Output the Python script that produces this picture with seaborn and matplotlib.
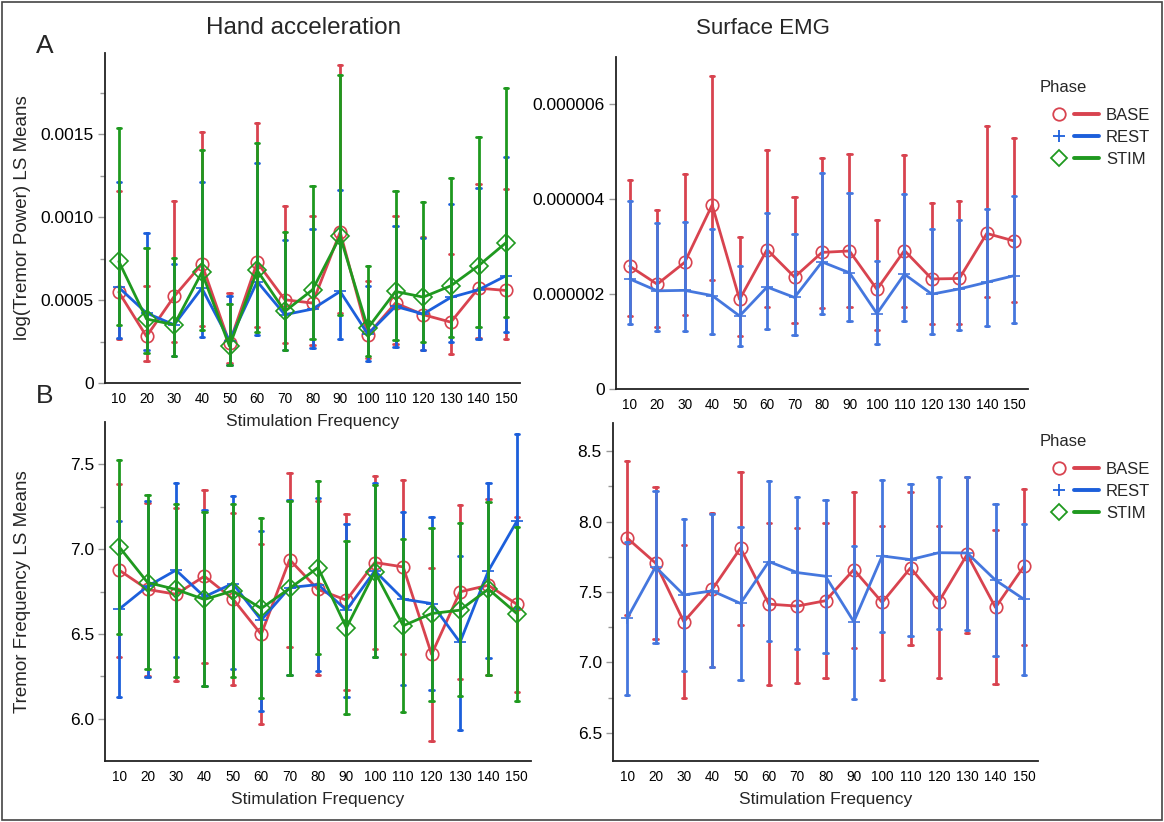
import numpy as np
import pandas as pd
import matplotlib
matplotlib.use("Agg")
import matplotlib.pyplot as plt
import seaborn as sns
from matplotlib.lines import Line2D
from matplotlib.legend_handler import HandlerTuple
from matplotlib.patches import Rectangle
from matplotlib.ticker import FixedLocator

# ---------------- data ----------------
freqs = [10, 20, 30, 40, 50, 60, 70, 80, 90, 100, 110, 120, 130, 140, 150]
freq_labels = [str(f) for f in freqs]
phases = ["BASE", "REST", "STIM"]

# Panel A left: log(Tremor Power) LS Means, hand acceleration
acc_pow_base_mean = [0.000548, 0.000281, 0.000522, 0.000717, 0.000240, 0.000727, 0.000502, 0.000482,
                     0.000910, 0.000291, 0.000482, 0.000412, 0.000367, 0.000572, 0.000558]
acc_pow_base_lo = [0.000265, 0.000135, 0.000247, 0.000341, 0.000120, 0.000337, 0.000241, 0.000231,
                   0.000422, 0.000150, 0.000237, 0.000200, 0.000177, 0.000270, 0.000265]
acc_pow_base_hi = [0.001160, 0.000582, 0.001100, 0.001514, 0.000542, 0.001570, 0.001070, 0.001010,
                   0.001920, 0.000614, 0.001008, 0.000880, 0.000777, 0.001200, 0.001170]
acc_pow_rest_mean = [0.000576, 0.000422, 0.000351, 0.000572, 0.000255, 0.000612, 0.000412, 0.000446,
                     0.000552, 0.000295, 0.000462, 0.000416, 0.000516, 0.000562, 0.000647]
acc_pow_rest_lo = [0.000270, 0.000200, 0.000165, 0.000277, 0.000110, 0.000287, 0.000197, 0.000210,
                   0.000265, 0.000135, 0.000220, 0.000197, 0.000245, 0.000267, 0.000307]
acc_pow_rest_hi = [0.001210, 0.000904, 0.000720, 0.001210, 0.000522, 0.001325, 0.000860, 0.000928,
                   0.001165, 0.000586, 0.000944, 0.000873, 0.001080, 0.001175, 0.001365]
acc_pow_stim_mean = [0.000733, 0.000386, 0.000351, 0.000667, 0.000222, 0.000679, 0.000432, 0.000562,
                     0.000884, 0.000331, 0.000552, 0.000518, 0.000586, 0.000707, 0.000847]
acc_pow_stim_lo = [0.000347, 0.000180, 0.000165, 0.000317, 0.000110, 0.000307, 0.000200, 0.000265,
                   0.000412, 0.000160, 0.000260, 0.000250, 0.000280, 0.000337, 0.000400]
acc_pow_stim_hi = [0.001540, 0.000813, 0.000753, 0.001406, 0.000476, 0.001450, 0.000908, 0.001190,
                   0.001855, 0.000707, 0.001160, 0.001090, 0.001237, 0.001486, 0.001780]

# Panel A right: surface EMG power
emg_pow_base_mean = [2.59e-6, 2.21e-6, 2.67e-6, 3.88e-6, 1.89e-6, 2.94e-6, 2.36e-6, 2.88e-6,
                     2.91e-6, 2.10e-6, 2.92e-6, 2.32e-6, 2.33e-6, 3.28e-6, 3.12e-6]
emg_pow_base_lo = [1.53e-6, 1.31e-6, 1.57e-6, 2.29e-6, 1.12e-6, 1.72e-6, 1.40e-6, 1.70e-6,
                   1.72e-6, 1.24e-6, 1.72e-6, 1.36e-6, 1.37e-6, 1.93e-6, 1.84e-6]
emg_pow_base_hi = [4.41e-6, 3.77e-6, 4.53e-6, 6.59e-6, 3.21e-6, 5.04e-6, 4.04e-6, 4.88e-6,
                   4.95e-6, 3.57e-6, 4.94e-6, 3.92e-6, 3.96e-6, 5.54e-6, 5.30e-6]
emg_pow_rest_mean = [2.32e-6, 2.07e-6, 2.08e-6, 1.97e-6, 1.54e-6, 2.15e-6, 1.93e-6, 2.68e-6,
                     2.45e-6, 1.59e-6, 2.42e-6, 2.00e-6, 2.11e-6, 2.25e-6, 2.39e-6]
emg_pow_rest_lo = [1.37e-6, 1.22e-6, 1.23e-6, 1.17e-6, 0.91e-6, 1.26e-6, 1.13e-6, 1.58e-6,
                   1.44e-6, 0.94e-6, 1.43e-6, 1.17e-6, 1.24e-6, 1.33e-6, 1.40e-6]
emg_pow_rest_hi = [3.96e-6, 3.50e-6, 3.52e-6, 3.37e-6, 2.60e-6, 3.71e-6, 3.26e-6, 4.55e-6,
                   4.14e-6, 2.70e-6, 4.11e-6, 3.38e-6, 3.57e-6, 3.80e-6, 4.07e-6]

# Panel B left: tremor frequency, hand acceleration
acc_frq_base_mean = [6.876, 6.762, 6.734, 6.840, 6.707, 6.497, 6.938, 6.762, 6.699, 6.921, 6.895, 6.379, 6.748, 6.787, 6.675]
acc_frq_base_lo = [6.363, 6.250, 6.222, 6.326, 6.198, 5.968, 6.424, 6.255, 6.169, 6.408, 6.381, 5.868, 6.236, 6.255, 6.155]
acc_frq_base_hi = [7.386, 7.270, 7.243, 7.351, 7.216, 7.029, 7.451, 7.284, 7.205, 7.433, 7.406, 6.889, 7.258, 7.296, 7.190]
acc_frq_rest_mean = [6.646, 6.781, 6.876, 6.719, 6.797, 6.581, 6.773, 6.791, 6.640, 6.872, 6.705, 6.679, 6.450, 6.872, 7.164]
acc_frq_rest_lo = [6.126, 6.247, 6.365, 6.194, 6.290, 6.045, 6.255, 6.279, 6.126, 6.361, 6.196, 6.167, 5.933, 6.355, 6.651]
acc_frq_rest_hi = [7.164, 7.282, 7.392, 7.229, 7.313, 7.107, 7.292, 7.304, 7.151, 7.390, 7.219, 7.190, 6.962, 7.392, 7.677]
acc_frq_stim_mean = [7.013, 6.803, 6.762, 6.703, 6.754, 6.650, 6.768, 6.891, 6.536, 6.866, 6.548, 6.620, 6.640, 6.764, 6.620]
acc_frq_stim_lo = [6.499, 6.294, 6.247, 6.194, 6.243, 6.120, 6.257, 6.381, 6.027, 6.361, 6.037, 6.104, 6.133, 6.255, 6.104]
acc_frq_stim_hi = [7.524, 7.317, 7.268, 7.217, 7.268, 7.186, 7.284, 7.404, 7.048, 7.380, 7.062, 7.127, 7.154, 7.278, 7.130]

# Panel B right: tremor frequency, surface EMG
emg_frq_base_mean = [7.883, 7.706, 7.289, 7.518, 7.812, 7.414, 7.400, 7.438, 7.659, 7.426, 7.671, 7.431, 7.767, 7.390, 7.682]
emg_frq_base_lo = [7.339, 7.164, 6.747, 6.970, 7.263, 6.839, 6.851, 6.886, 7.105, 6.872, 7.124, 6.886, 7.211, 6.846, 7.124]
emg_frq_base_hi = [8.427, 8.248, 7.831, 8.060, 8.354, 7.991, 7.951, 7.991, 8.208, 7.972, 8.213, 7.972, 8.314, 7.937, 8.234]
emg_frq_rest_mean = [7.313, 7.678, 7.479, 7.508, 7.419, 7.716, 7.638, 7.612, 7.289, 7.756, 7.730, 7.779, 7.777, 7.584, 7.449]
emg_frq_rest_lo = [6.769, 7.136, 6.936, 6.964, 6.877, 7.150, 7.094, 7.065, 6.743, 7.214, 7.186, 7.237, 7.230, 7.047, 6.912]
emg_frq_rest_hi = [7.852, 8.217, 8.017, 8.055, 7.958, 8.286, 8.177, 8.154, 7.824, 8.295, 8.267, 8.319, 8.314, 8.125, 7.986]

# tick labels
acc_pow_yticks = [0, 0.0005, 0.0010, 0.0015]
acc_pow_yticklabels = ["0", "0.0005", "0.0010", "0.0015"]
emg_pow_yticks = [0, 0.000002, 0.000004, 0.000006]
emg_pow_yticklabels = ["0", "0.000002", "0.000004", "0.000006"]
acc_frq_yticks = [6.0, 6.5, 7.0, 7.5]
acc_frq_yticklabels = ["6.0", "6.5", "7.0", "7.5"]
emg_frq_yticks = [6.5, 7.0, 7.5, 8.0, 8.5]
emg_frq_yticklabels = ["6.5", "7.0", "7.5", "8.0", "8.5"]

# ---------------- style ----------------
RED = "#D8434F"
BLUE = "#1C5FDB"
BLUE_LIGHT = "#4577DE"
GREEN = "#1F991F"
MARKERS = {"BASE": "o", "REST": "+", "STIM": "D"}

sns.set_theme(style="white")
plt.rcParams["font.family"] = ["Liberation Sans", "DejaVu Sans"]


def long_frame(series):
    rows = []
    for phase, (m, lo, hi) in series.items():
        for f, a, b, c in zip(freq_labels, lo, m, hi):
            for v in (a, b, c):
                rows.append({"freq": f, "phase": phase, "value": v})
    return pd.DataFrame(rows)


def draw(ax, series, palette, ylim, yticks, yticklabels, minor=None):
    df = long_frame(series)
    order = list(series.keys())
    sns.pointplot(data=df, x="freq", y="value", hue="phase", order=freq_labels,
                  hue_order=order, palette=palette,
                  markers=[MARKERS[p] for p in order], linestyles="-",
                  estimator="median", errorbar=("pi", 100), capsize=0.15,
                  dodge=False, legend=False, ax=ax,
                  linewidth=2.0, markersize=9, markeredgewidth=1.2,
                  markerfacecolor="none")
    ax.set_facecolor("none")
    ax.set_xlim(-0.5, len(freqs) - 0.5)
    ax.set_ylim(*ylim)
    ax.set_yticks(yticks, yticklabels)
    if minor:
        ax.yaxis.set_minor_locator(FixedLocator(minor))
    ax.set_xlabel("")
    ax.set_ylabel("")
    sns.despine(ax=ax)
    for s in ("left", "bottom"):
        ax.spines[s].set_color("#222222")
        ax.spines[s].set_linewidth(1.3)
    ax.tick_params(axis="x", length=0, labelsize=9.8, pad=6.5, colors="black")
    ax.tick_params(axis="y", which="major", left=True, length=5, width=1, color="#999999",
                   labelsize=12.5, pad=3, labelcolor="black")
    ax.tick_params(axis="y", which="minor", left=True, length=3.5, width=1, color="#999999")
    ax.grid(False)


W, H = 1164, 822
fig = plt.figure(figsize=(W / 100, H / 100), dpi=100)


def box(l, t, r, b):
    return [l / W, 1 - b / H, (r - l) / W, (b - t) / H]


ax1 = fig.add_axes(box(105, 53, 520, 383))
ax2 = fig.add_axes(box(616, 57, 1028, 389))
ax3 = fig.add_axes(box(105, 422, 531, 761))
ax4 = fig.add_axes(box(613, 423, 1038, 761))

pal_left = {"BASE": RED, "REST": BLUE, "STIM": GREEN}
pal_right = {"BASE": RED, "REST": BLUE_LIGHT}

draw(ax1, {"BASE": (acc_pow_base_mean, acc_pow_base_lo, acc_pow_base_hi),
           "REST": (acc_pow_rest_mean, acc_pow_rest_lo, acc_pow_rest_hi),
           "STIM": (acc_pow_stim_mean, acc_pow_stim_lo, acc_pow_stim_hi)},
     pal_left, (0, 0.00199), acc_pow_yticks, acc_pow_yticklabels,
     minor=[0.00025, 0.00075, 0.00125, 0.00175])
draw(ax2, {"BASE": (emg_pow_base_mean, emg_pow_base_lo, emg_pow_base_hi),
           "REST": (emg_pow_rest_mean, emg_pow_rest_lo, emg_pow_rest_hi)},
     pal_right, (0, 0.000007), emg_pow_yticks, emg_pow_yticklabels)
draw(ax3, {"BASE": (acc_frq_base_mean, acc_frq_base_lo, acc_frq_base_hi),
           "REST": (acc_frq_rest_mean, acc_frq_rest_lo, acc_frq_rest_hi),
           "STIM": (acc_frq_stim_mean, acc_frq_stim_lo, acc_frq_stim_hi)},
     pal_left, (5.75, 7.75), acc_frq_yticks, acc_frq_yticklabels,
     minor=[6.25, 6.75, 7.25])
draw(ax4, {"BASE": (emg_frq_base_mean, emg_frq_base_lo, emg_frq_base_hi),
           "REST": (emg_frq_rest_mean, emg_frq_rest_lo, emg_frq_rest_hi)},
     pal_right, (6.3, 8.7), emg_frq_yticks, emg_frq_yticklabels,
     minor=[6.75, 7.25, 7.75, 8.25])

for ax in (ax1, ax3, ax4):
    ax.set_xlabel("Stimulation Frequency", fontsize=12.5, labelpad=6)
ax1.set_ylabel("log(Tremor Power) LS Means", fontsize=13.5)
ax1.yaxis.set_label_coords((31 - 105) / 415, 0.5)
ax3.set_ylabel("Tremor Frequency LS Means", fontsize=13.5)
ax3.yaxis.set_label_coords((31 - 105) / 426, 0.5)

fig.text(304 / W, 1 - 28 / H, "Hand acceleration", ha="center", va="center", fontsize=17.5)
fig.text(763 / W, 1 - 28 / H, "Surface EMG", ha="center", va="center", fontsize=16)
fig.text(45 / W, 1 - 46 / H, "A", ha="center", va="center", fontsize=19)
fig.text(45 / W, 1 - 396 / H, "B", ha="center", va="center", fontsize=19)

# legends
leg_colors = {"BASE": RED, "REST": BLUE, "STIM": GREEN}


def legend_handles():
    hs = []
    for p in phases:
        mk = Line2D([], [], linestyle="none", marker=MARKERS[p], markersize=9 if p != "STIM" else 8,
                    markerfacecolor="none", markeredgecolor=leg_colors[p], markeredgewidth=1.3)
        ln = Line2D([], [], color=leg_colors[p], linewidth=2.8)
        hs.append((mk, ln))
    return hs


for y_title, y_mid in ((88, 137), (441, 491)):
    fig.text(1040 / W, 1 - y_title / H, "Phase", ha="left", va="center", fontsize=12)
    fig.legend(legend_handles(), phases, loc="center left",
               bbox_to_anchor=(1031 / W, 1 - y_mid / H), frameon=False,
               fontsize=12, handlelength=3.2, handletextpad=0.4,
               labelspacing=0.42,
               handler_map={tuple: HandlerTuple(ndivide=None, pad=0.1)})

fig.patches.append(Rectangle((2 / W, 2 / H), 1 - 4 / W, 1 - 4 / H, transform=fig.transFigure,
                             fill=False, edgecolor="#444444", linewidth=1.2))

fig.savefig("out.png", dpi=100)
